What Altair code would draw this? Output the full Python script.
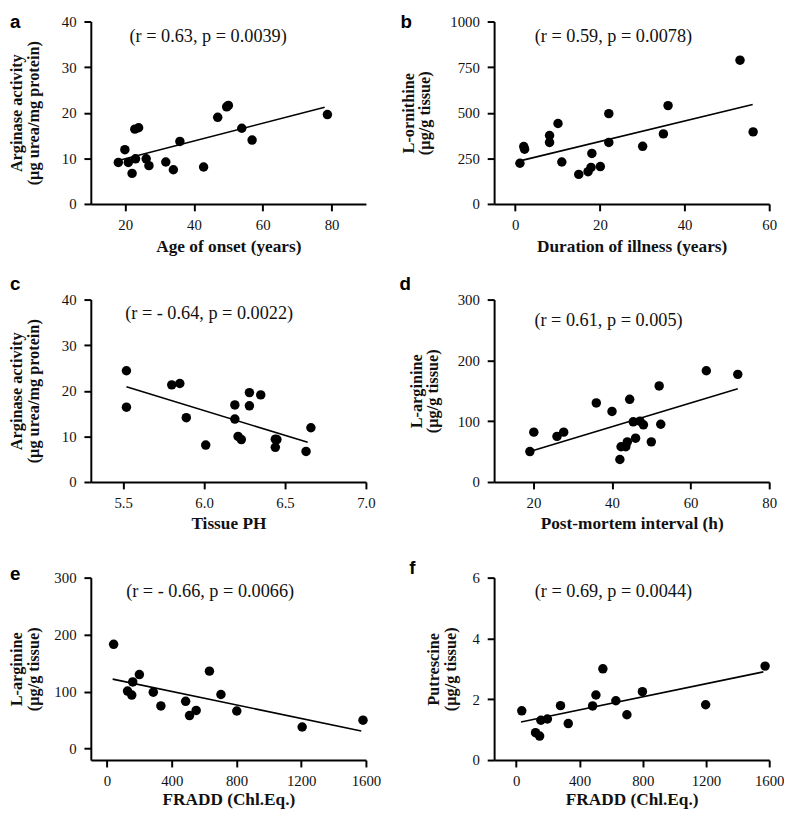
import altair as alt
import pandas as pd

# ---------------- data ----------------
# a: Age of onset vs Arginase activity
a_x = [18, 19.9, 20.9, 22, 23, 22.8, 23.9, 26.1, 26.9, 31.8, 34, 35.9, 42.8, 46.9, 49.5, 50, 53.9, 56.9, 78.8]
a_y = [9.1, 11.9, 9.1, 6.7, 9.9, 16.4, 16.7, 9.9, 8.4, 9.2, 7.5, 13.7, 8.1, 19.0, 21.3, 21.6, 16.6, 14.0, 19.6]
a_fit_x = [18.3, 78.0]
a_fit_y = [9.6, 21.2]

# b: Duration of illness vs L-ornithine
b_x = [1.1, 2.0, 2.2, 8.1, 8.1, 10.1, 11.0, 15.0, 17.2, 17.9, 18.1, 20.1, 22.1, 22.1, 30.1, 35.0, 36.1, 53.1, 56.2]
b_y = [223, 315, 300, 375, 337, 441, 230, 162, 177, 200, 277, 205, 495, 337, 316, 384, 539, 788, 395]
b_fit_x = [1.1, 56.1]
b_fit_y = [236, 545]

# c: Tissue pH vs Arginase activity
c_x = [5.52, 5.52, 5.80, 5.85, 5.89, 6.01, 6.19, 6.19, 6.21, 6.23, 6.28, 6.28, 6.35, 6.44, 6.45, 6.44, 6.63, 6.66]
c_y = [24.4, 16.4, 21.3, 21.6, 14.1, 8.1, 16.9, 13.8, 10.0, 9.3, 19.6, 16.7, 19.1, 9.4, 9.3, 7.6, 6.7, 11.9]
c_fit_x = [5.52, 6.64]
c_fit_y = [20.9, 8.7]

# d: Post-mortem interval vs L-arginine
d_x = [19.1, 20.1, 26.0, 27.7, 36.0, 40.0, 42.0, 42.3, 43.5, 43.9, 44.5, 45.4, 46.0, 47.1, 48.0, 50.0, 52.0, 52.4, 64.0, 72.0]
d_y = [50, 82, 75, 82, 130, 116, 37, 58, 58, 66, 136, 99, 72, 100, 94, 66, 158, 95, 183, 177]
d_fit_x = [19.1, 72.0]
d_fit_y = [50, 153.5]

# e: FRADD vs L-arginine
e_x = [41, 127, 153, 159, 200, 286, 333, 486, 510, 551, 633, 704, 802, 1206, 1582]
e_y = [183, 101, 94, 117, 130, 99, 75, 83, 58, 67, 136, 95, 66, 38, 50]
e_fit_x = [35, 1571]
e_fit_y = [122, 31]

# f: FRADD vs Putrescine
f_x = [35, 122, 148, 156, 197, 280, 329, 483, 504, 548, 630, 700, 798, 1198, 1574]
f_y = [1.62, 0.90, 0.79, 1.31, 1.35, 1.79, 1.20, 1.78, 2.14, 3.00, 1.95, 1.49, 2.25, 1.82, 3.09]
f_fit_x = [30, 1563]
f_fit_y = [1.25, 2.90]

SERIF = "Liberation Serif"
SANS = "Liberation Sans"
W, H = 279, 185


def panel(xs, ys, fx, fy, xdom, xvals, xfmt, ydom, yvals, yfmt, xtitle, ytitle,
          note, note_xy, tag, tag_xy, ytx, xty):
    pts = pd.DataFrame({"x": xs, "y": ys})
    fit = pd.DataFrame({"x": fx, "y": fy})
    xenc = alt.X("x:Q",
                 scale=alt.Scale(domain=xdom, nice=False, zero=False),
                 axis=alt.Axis(values=xvals, format=xfmt, title=xtitle, titleY=xty,
                               titleBaseline="alphabetic", labelPadding=7,
                               labelFont=SERIF, labelFontSize=15,
                               titleFont=SERIF, titleFontSize=17.5))
    yenc = alt.Y("y:Q",
                 scale=alt.Scale(domain=ydom, nice=False, zero=False),
                 axis=alt.Axis(values=yvals, format=yfmt, title=ytitle, titleX=ytx,
                               titleBaseline="bottom", labelPadding=8,
                               labelFont=SERIF, labelFontSize=15,
                               titleFont=SERIF, titleFontSize=16.5, titleLineHeight=17))
    dots = alt.Chart(pts).mark_circle(size=92, color="black", opacity=1).encode(x=xenc, y=yenc)
    line = alt.Chart(fit).mark_line(color="black", strokeWidth=1.6).encode(x=xenc, y=yenc)
    txt = alt.Chart(pd.DataFrame({"t": [note]})).mark_text(
        font=SERIF, fontSize=18.5, align="center", baseline="middle", color="#111"
    ).encode(x=alt.value(note_xy[0]), y=alt.value(note_xy[1]), text="t:N")
    lab = alt.Chart(pd.DataFrame({"t": [tag]})).mark_text(
        font=SANS, fontWeight="bold", fontSize=19, align="left", baseline="alphabetic", color="black"
    ).encode(x=alt.value(tag_xy[0]), y=alt.value(tag_xy[1]), text="t:N")
    return alt.layer(dots, line, txt, lab).properties(width=W, height=H)


pa = panel(a_x, a_y, a_fit_x, a_fit_y, [10, 90], [20, 40, 60, 80], "d",
           [0, 40], [0, 10, 20, 30, 40], "d",
           "Age of onset (years)", ["Arginase activity", "(µg urea/mg protein)"],
           "(r = 0.63, p = 0.0039)", (119, 15), "a", (-82, 7), -67, 48)
pb = panel(b_x, b_y, b_fit_x, b_fit_y, [-5, 60], [0, 20, 40, 60], "d",
           [0, 1000], [0, 250, 500, 750, 1000], "d",
           "Duration of illness (years)", ["L-ornithine", "(µg/g tissue)"],
           "(r = 0.59, p = 0.0078)", (121, 15), "b", (-95, 7), -79, 48)
pc = panel(c_x, c_y, c_fit_x, c_fit_y, [5.3, 7.0], [5.5, 6.0, 6.5, 7.0], ".1f",
           [0, 40], [0, 10, 20, 30, 40], "d",
           "Tissue PH", ["Arginase activity", "(µg urea/mg protein)"],
           "(r = - 0.64, p = 0.0022)", (120, 14), "c", (-82, -10), -67, 47)
pd_ = panel(d_x, d_y, d_fit_x, d_fit_y, [10, 80], [20, 40, 60, 80], "d",
            [0, 300], [0, 100, 200, 300], "d",
            "Post-mortem interval (h)", ["L-arginine", "(µg/g tissue)"],
            "(r = 0.61, p = 0.005)", (116, 21), "d", (-96, -10), -71, 47)
pe = panel(e_x, e_y, e_fit_x, e_fit_y, [-100, 1600], [0, 400, 800, 1200, 1600], "d",
           [-20, 300], [0, 100, 200, 300], "d",
           "FRADD (Chl.Eq.)", ["L-arginine", "(µg/g tissue)"],
           "(r = - 0.66, p = 0.0066)", (121, 14), "e", (-82, 2), -67, 45)
pf = panel(f_x, f_y, f_fit_x, f_fit_y, [-140, 1600], [0, 400, 800, 1200, 1600], "d",
           [0, 6], [0, 2, 4, 6], "d",
           "FRADD (Chl.Eq.)", ["Putrescine", "(µg/g tissue)"],
           "(r = 0.69, p = 0.0044)", (121, 14), "f", (-86, -4), -53, 45)

chart = alt.concat(
    pa, pb, pc, pd_, pe, pf, columns=2,
    spacing={"row": 97, "column": 130}, bounds="flush"
).properties(padding=0).configure_view(stroke=None).configure_axis(
    grid=False,
    domainColor="black", domainWidth=2,
    tickColor="black", tickWidth=2, tickSize=7,
    labelFont=SERIF, labelFontSize=15, labelColor="#111",
    labelFlush=False, labelOverlap=False,
    titleFont=SERIF, titleFontWeight="bold", titleColor="#111",
)

chart.save("out.html", embed_options={"renderer": "svg", "actions": False})
